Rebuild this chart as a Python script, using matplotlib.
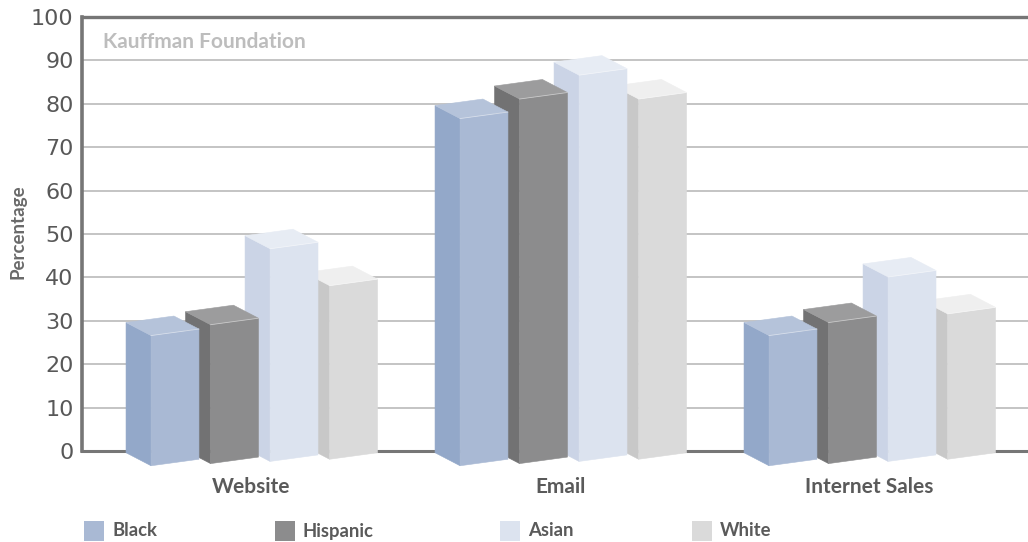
import matplotlib
matplotlib.use("Agg")
import matplotlib.pyplot as plt
from matplotlib.patches import Polygon, Rectangle

# ---- data -------------------------------------------------------------
categories = ["Website", "Email", "Internet Sales"]
groups = ["Black", "Hispanic", "Asian", "White"]
black = [30, 80, 30]
hispanic = [32, 84, 32.5]
asian = [49, 89, 42.5]
white = [40, 83, 33.5]
yticks = [0, 10, 20, 30, 40, 50, 60, 70, 80, 90, 100]

series = [black, hispanic, asian, white]

# face colours per series: (front, side, top)
face_colors = [
    ("#a9b9d4", "#93a8c9", "#b5c3da"),
    ("#8c8c8d", "#727273", "#9c9c9d"),
    ("#dce3ef", "#cbd4e6", "#e7ecf4"),
    ("#dadada", "#c8c8c8", "#efefef"),
]

# ---- figure -------------------------------------------------------------
W, H = 1028, 542
fig = plt.figure(figsize=(W / 100, H / 100), dpi=100)
ax = fig.add_axes([82 / W, (H - 451) / H, (W - 82) / W, 434 / H])

ax.set_ylim(0, 100)
ax.set_xlim(-0.5485, 2.513)

ax.set_yticks(yticks)
ax.set_yticklabels([str(t) for t in yticks],
                   fontfamily=["DejaVu Sans"], fontsize=16, color="#585858")
ax.tick_params(axis="y", length=0, pad=6)
ax.set_xticks([])
ax.yaxis.grid(True, color="#c4c4c4", linewidth=1.4)
ax.set_axisbelow(True)

for side in ("left", "top", "bottom"):
    ax.spines[side].set_color("#767676")
ax.spines["left"].set_linewidth(2.6)
ax.spines["top"].set_linewidth(2.4)
ax.spines["bottom"].set_linewidth(2.2)
ax.spines["right"].set_visible(False)

# ---- pseudo-3D bars ------------------------------------------------------
front_w = 0.155      # width of the front face
step = 0.1926        # distance between bars in a group
first = -0.325       # front-left of the first bar relative to group centre
ddx, ddy = -0.081, 3.0   # depth offset (to the left and up)
skew = 1.5           # right edge of front face sits a bit higher
base0 = -3.4         # bottom of the first front face

for ci in range(len(categories)):
    # draw right-most bar first so nearer bars overlap it
    for si in reversed(range(len(series))):
        v = series[si][ci]
        x0 = ci + first + si * step
        yb = base0 + 0.5 * si
        fc, sc, tc = face_colors[si]
        front = [(x0, yb), (x0 + front_w, yb + skew),
                 (x0 + front_w, yb + skew + v), (x0, yb + v)]
        side = [(x0 + ddx, yb + ddy), (x0, yb), (x0, yb + v),
                (x0 + ddx, yb + v + ddy)]
        top = [(x0, yb + v), (x0 + front_w, yb + skew + v),
               (x0 + front_w + ddx, yb + skew + v + ddy),
               (x0 + ddx, yb + v + ddy)]
        z = 10 + (len(series) - si)
        for pts, col in ((side, sc), (front, fc), (top, tc)):
            ax.add_patch(Polygon(pts, closed=True, facecolor=col,
                                 edgecolor=col, linewidth=0.4,
                                 clip_on=False, zorder=z))
        # thin highlight along the front top edge
        ax.plot([x0, x0 + front_w], [yb + v, yb + skew + v],
                color="white", alpha=0.45, linewidth=0.6,
                clip_on=False, zorder=z)

# ---- text ----------------------------------------------------------------
label_font = ["Lato", "DejaVu Sans"]

for ci, name in enumerate(categories):
    ax.text(ci, -8.2, name, ha="center", va="center", fontsize=15,
            fontweight="bold", color="#5a5a5a", fontfamily=label_font,
            clip_on=False)

ax.set_ylabel("Percentage", fontsize=13.5, fontweight="bold",
              color="#6a6a6a", fontfamily=label_font)
ax.yaxis.set_label_coords((27 - 82) / (W - 82), 0.505)

fig.text(103 / W, 1 - 42 / H, "Kauffman Foundation", ha="left",
         va="center", fontsize=15, fontweight="bold", color="#bdbdbd",
         fontfamily=label_font)

# ---- legend --------------------------------------------------------------
legend_x = [84, 275, 500, 692]
for name, x, cols in zip(groups, legend_x, face_colors):
    fig.patches.append(Rectangle((x / W, 1 - 541 / H), 20 / W, 20 / H,
                                 transform=fig.transFigure,
                                 facecolor=cols[0], edgecolor="none"))
    fig.text((x + 28) / W, 1 - 531 / H, name, ha="left", va="center",
             fontsize=13.3, fontweight="bold", color="#5a5a5a",
             fontfamily=label_font)

fig.savefig("out.png", dpi=100, facecolor="white")
